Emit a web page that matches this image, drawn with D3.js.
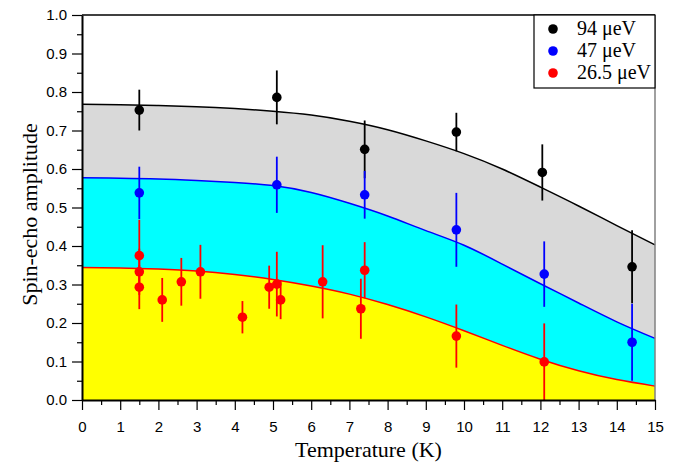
<!DOCTYPE html>
<html lang="en">
<head>
  <meta charset="UTF-8">
  <title>Spin-echo amplitude vs temperature</title>
  <script src="https://d3js.org/d3.v7.min.js"></script>
  <style>
    body { margin: 0; background: #fff; }
    .tick text { font-family: "Liberation Sans", Arial, sans-serif; font-size: 15px; fill: #000; }
    .axis-title { font-family: "Liberation Serif", "Times New Roman", serif; font-size: 22px; }
    .legend text { font-family: "Liberation Serif", "Times New Roman", serif; font-size: 20px; }
  </style>
</head>
<body>
  <svg width="688" height="464"></svg>
  <script>
    // fitted curves, read at whole kelvin
    const curveT = [0, 1, 2, 3, 4, 5, 6, 7, 8, 9, 10, 11, 12, 13, 14, 15];
    const fit94 = [0.768, 0.767, 0.765, 0.762, 0.757, 0.750, 0.740, 0.724, 0.702, 0.673, 0.640, 0.600, 0.553, 0.504, 0.453, 0.403];
    const fit47 = [0.577, 0.576, 0.574, 0.570, 0.565, 0.557, 0.539, 0.511, 0.478, 0.440, 0.402, 0.353, 0.302, 0.252, 0.203, 0.160];
    const fit265 = [0.344, 0.343, 0.340, 0.335, 0.326, 0.313, 0.296, 0.275, 0.248, 0.216, 0.180, 0.142, 0.106, 0.076, 0.053, 0.036];

    // measured points
    const temp94 = [1.5, 5.1, 7.4, 9.8, 12.05, 14.4];
    const amp94 = [0.753, 0.786, 0.651, 0.696, 0.591, 0.346];
    const err94 = [0.053, 0.07, 0.075, 0.05, 0.073, 0.095];

    const temp47 = [1.5, 5.1, 7.4, 9.8, 12.1, 14.4];
    const amp47 = [0.538, 0.559, 0.533, 0.442, 0.327, 0.150];
    const err47 = [0.068, 0.073, 0.062, 0.096, 0.085, 0.1];

    const temp265 = [1.5, 1.5, 1.5, 2.1, 2.6, 3.1, 4.2, 4.9, 5.1, 5.2, 6.3, 7.3, 7.4, 9.8, 12.1];
    const amp265 = [0.375, 0.333, 0.293, 0.26, 0.307, 0.333, 0.215, 0.293, 0.301, 0.26, 0.307, 0.237, 0.337, 0.166, 0.099];
    const err265 = [0.093, 0.06, 0.057, 0.057, 0.062, 0.07, 0.042, 0.056, 0.084, 0.05, 0.095, 0.078, 0.073, 0.082, 0.1];

    const legendLabels = ["94 \u03bceV", "47 \u03bceV", "26.5 \u03bceV"];

    const svg = d3.select("svg");
    const pLeft = 82, pRight = 655, pTop = 15, pBottom = 400;

    const x = d3.scaleLinear().domain([0, 15]).range([pLeft, pRight]);
    const y = d3.scaleLinear().domain([0, 1]).range([pBottom, pTop]);

    const series = [
      { fit: fit94, t: temp94, a: amp94, e: err94, fill: "#d9d9d9", color: "#000" },
      { fit: fit47, t: temp47, a: amp47, e: err47, fill: "#00ffff", color: "#0000ff" },
      { fit: fit265, t: temp265, a: amp265, e: err265, fill: "#ffff00", color: "#ff0000" }
    ];

    // shaded bands under each fit, biggest first
    series.forEach(s => {
      const pts = curveT.map((t, i) => [t, s.fit[i]]);
      svg.append("path")
        .datum(pts)
        .attr("fill", s.fill)
        .attr("d", d3.area().curve(d3.curveNatural)
          .x(d => x(d[0])).y0(y(0)).y1(d => y(d[1])));
    });

    series.forEach(s => {
      const pts = curveT.map((t, i) => [t, s.fit[i]]);
      svg.append("path")
        .datum(pts)
        .attr("fill", "none")
        .attr("stroke", s.color)
        .attr("stroke-width", 1.5)
        .attr("d", d3.line().curve(d3.curveNatural).x(d => x(d[0])).y(d => y(d[1])));
    });

    // error bars and points
    series.forEach(s => {
      const g = svg.append("g");
      const rows = s.t.map((t, i) => ({ t: t, a: s.a[i], e: s.e[i] }));
      g.selectAll("line")
        .data(rows)
        .enter().append("line")
        .attr("x1", d => x(d.t)).attr("x2", d => x(d.t))
        .attr("y1", d => y(Math.min(1, d.a + d.e)))
        .attr("y2", d => y(Math.max(0, d.a - d.e)))
        .attr("stroke", s.color)
        .attr("stroke-width", 1.8);
      g.selectAll("circle")
        .data(rows)
        .enter().append("circle")
        .attr("cx", d => x(d.t))
        .attr("cy", d => y(d.a))
        .attr("r", 4.8)
        .attr("fill", s.color);
    });

    // frame
    svg.append("line").attr("x1", pLeft).attr("x2", pRight).attr("y1", pTop).attr("y2", pTop)
      .attr("stroke", "#000").attr("stroke-width", 1.5);
    svg.append("line").attr("x1", pRight).attr("x2", pRight).attr("y1", pTop).attr("y2", pBottom)
      .attr("stroke", "#808080").attr("stroke-width", 1.5);

    // axes with minor ticks
    const yMinor = d3.range(0.05, 1, 0.1);
    const xMinor = d3.range(0.5, 15, 1);

    svg.append("g").attr("transform", `translate(${pLeft},0)`)
      .call(d3.axisLeft(y).tickValues(yMinor).tickSize(5).tickSizeOuter(0).tickFormat(""))
      .call(g => g.select(".domain").remove());
    svg.append("g").attr("transform", `translate(0,${pBottom})`)
      .call(d3.axisBottom(x).tickValues(xMinor).tickSize(5).tickSizeOuter(0).tickFormat(""))
      .call(g => g.select(".domain").remove());

    const yAxis = svg.append("g").attr("transform", `translate(${pLeft},0)`)
      .call(d3.axisLeft(y).ticks(10).tickFormat(d3.format(".1f")).tickSize(10).tickSizeOuter(0).tickPadding(5));
    const xAxis = svg.append("g").attr("transform", `translate(0,${pBottom})`)
      .call(d3.axisBottom(x).ticks(15).tickFormat(d3.format("d")).tickSize(10).tickSizeOuter(0).tickPadding(11));
    [yAxis, xAxis].forEach(a => {
      a.select(".domain").attr("stroke", "#000").attr("stroke-width", 2);
    });
    svg.selectAll(".tick line").attr("stroke", "#000").attr("stroke-width", 1.2);

    svg.append("text").attr("class", "axis-title")
      .attr("x", (pLeft + pRight) / 2).attr("y", 457)
      .attr("text-anchor", "middle").text("Temperature (K)");
    svg.append("text").attr("class", "axis-title")
      .attr("transform", `translate(37,${(pTop + pBottom) / 2 + 7}) rotate(-90)`)
      .attr("text-anchor", "middle").text("Spin-echo amplitude");

    // legend
    const lg = svg.append("g").attr("class", "legend");
    lg.append("rect").attr("x", 534).attr("y", pTop).attr("width", pRight - 534).attr("height", 73)
      .attr("fill", "#fff").attr("stroke", "#000").attr("stroke-width", 1.2);
    legendLabels.forEach((lab, i) => {
      lg.append("circle").attr("cx", 553).attr("cy", 29 + i * 22).attr("r", 4.8).attr("fill", series[i].color);
      lg.append("text").attr("x", 577).attr("y", 35 + i * 22).text(lab);
    });
  </script>
</body>
</html>
